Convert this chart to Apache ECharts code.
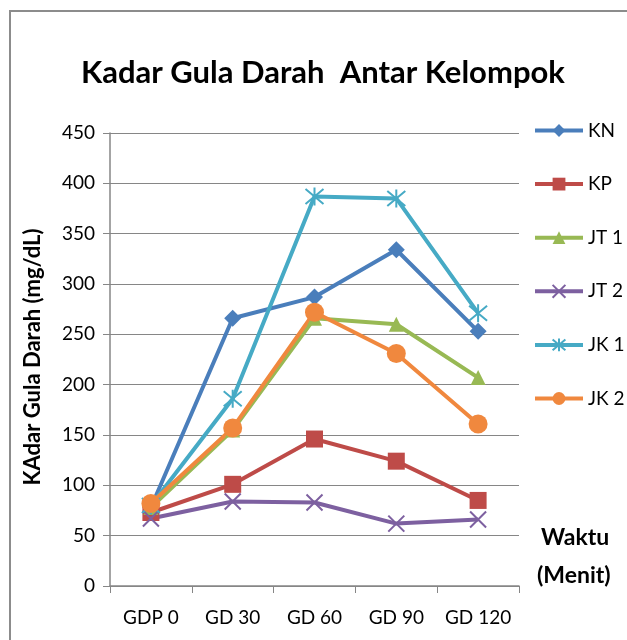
<!DOCTYPE html>
<html><head><meta charset="utf-8">
<script src="https://cdn.jsdelivr.net/npm/echarts@6/dist/echarts.min.js"></script>
<style>html,body{margin:0;padding:0;background:#fff}#c{width:627px;height:640px}</style>
</head><body><div id="c"></div>
<script>
const categories = ['GDP 0', 'GD 30', 'GD 60', 'GD 90', 'GD 120'];
const seriesNames = ['KN', 'KP', 'JT 1', 'JT 2', 'JK 1', 'JK 2'];
const KN  = [78, 266, 287, 334, 253];
const KP  = [73, 101, 146, 124, 85];
const JT1 = [78, 155, 266, 260, 207];
const JT2 = [67, 84, 83, 62, 66];
const JK1 = [80, 186, 387, 385, 271];
const JK2 = [82, 157, 272, 231, 161];
const yTicks = [0, 50, 100, 150, 200, 250, 300, 350, 400, 450];

const FONT = 'Lato';
const colors = ['#4A7EBB', '#BE4B48', '#98B954', '#7D60A0', '#46AAC5', '#F0883E'];
const XPATH = 'path://M0,0L10,10M10,0L0,10';
const STARPATH = 'path://M0,0L10,10M10,0L0,10M5,-1L5,11';
const symbols = ['diamond', 'rect', 'triangle', XPATH, STARPATH, 'circle'];
const sizes = [17, 17, 15, 16, 18, 19];
const datas = [KN, KP, JT1, JT2, JK1, JK2];

const series = seriesNames.map((n, i) => {
  const stroke = (i === 3 || i === 4);
  return {
    name: n, type: 'line', data: datas[i],
    symbol: symbols[i], symbolSize: sizes[i], showAllSymbol: true,
    lineStyle: { color: colors[i], width: 4 },
    itemStyle: stroke ? { color: 'rgba(0,0,0,0)', borderColor: colors[i], borderWidth: 2 } : { color: colors[i], borderWidth: 0 },
    emphasis: { disabled: true },
    animation: false
  };
});

const chart = echarts.init(document.getElementById('c'), null, { renderer: 'canvas' });
chart.setOption({
  animation: false,
  title: {
    text: 'Kadar Gula Darah  Antar Kelompok', left: 76, top: 52,
    textStyle: { fontFamily: FONT, fontWeight: 'bold', fontSize: 31, color: '#000' }
  },
  grid: { left: 110, right: 108, top: 133, bottom: 54, containLabel: false },
  legend: {
    orient: 'vertical', left: 533, top: 121, padding: 0, itemWidth: 48, itemHeight: 16, itemGap: 34.6,
    data: seriesNames,
    lineStyle: { width: 4 },
    textStyle: { fontFamily: FONT, fontSize: 19, color: '#000' }
  },
  xAxis: {
    type: 'category', data: categories, boundaryGap: true,
    axisLine: { lineStyle: { color: '#868686', width: 1.5 } },
    axisTick: { show: true, length: 7, alignWithLabel: false, lineStyle: { color: '#868686' } },
    axisLabel: { interval: 0, fontFamily: FONT, fontSize: 19, color: '#000', margin: 22 }
  },
  yAxis: {
    type: 'value', min: yTicks[0], max: yTicks[yTicks.length - 1], interval: 50,
    axisLine: { show: true, lineStyle: { color: '#868686', width: 1.5 } },
    axisTick: { show: true, length: 7, lineStyle: { color: '#868686' } },
    splitLine: { lineStyle: { color: '#868686', width: 1 } },
    axisLabel: { fontFamily: FONT, fontSize: 19, color: '#000', margin: 15 }
  },
  graphic: [
    { type: 'rect', shape: { x: 10, y: 11, width: 700, height: 700 }, style: { fill: 'none', stroke: '#8c8c8c', lineWidth: 2 }, silent: true, z: -1 },
    { type: 'text', x: 33, y: 357, rotation: Math.PI / 2,
      style: { text: 'KAdar Gula Darah (mg/dL)', fontFamily: FONT, fontWeight: 'bold', fontSize: 22, fill: '#000', textAlign: 'center', textVerticalAlign: 'middle' } },
    { type: 'text', x: 541, y: 538,
      style: { text: 'Waktu', fontFamily: FONT, fontWeight: 'bold', fontSize: 23, fill: '#000', textAlign: 'left', textVerticalAlign: 'middle' } },
    { type: 'text', x: 537, y: 576,
      style: { text: '(Menit)', fontFamily: FONT, fontWeight: 'bold', fontSize: 23, fill: '#000', textAlign: 'left', textVerticalAlign: 'middle' } }
  ],
  series: series
});
</script></body></html>
